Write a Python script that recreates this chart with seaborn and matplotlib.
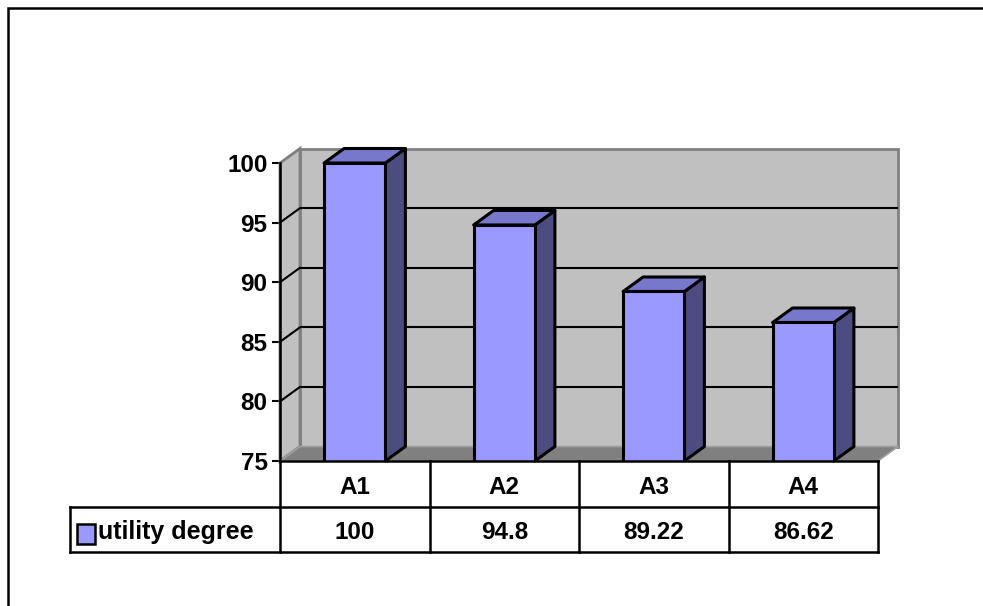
import matplotlib
matplotlib.use("Agg")
import matplotlib.pyplot as plt
import matplotlib.transforms as mtransforms
from matplotlib.patches import Polygon, Rectangle
import seaborn as sns
import pandas as pd

# Data
categories = ["A1", "A2", "A3", "A4"]
series_name = "utility degree"
utility = [100, 94.8, 89.22, 86.62]
y_ticks = [75, 80, 85, 90, 95, 100]

FRONT = "#9999FF"
TOP = "#7777CC"
SIDE = "#4C4C80"
WALL = "#C0C0C0"
FLOOR = "#808080"
EDGE = "#808080"
FS = 17.5

sns.set_theme(style="white")
plt.rcParams["font.family"] = ["Liberation Sans", "DejaVu Sans"]
plt.rcParams["font.weight"] = "bold"
plt.rcParams["text.color"] = "black"
plt.rcParams["ytick.color"] = "black"
plt.rcParams["ytick.labelcolor"] = "black"

W, H = 983, 606
fig = plt.figure(figsize=(W / 100, H / 100), dpi=100, facecolor="white")

# front plane of the 3-D plot area (pixel box 280..878 x 163..461)
ax = fig.add_axes([280 / W, (H - 461) / H, 598 / W, 298 / H])
ax.set_facecolor("none")

df = pd.DataFrame({"category": categories, "value": utility})
sns.barplot(data=df, x="category", y="value", color=FRONT, width=0.41,
            edgecolor="black", linewidth=2.2, saturation=1, ax=ax, zorder=5)

ymin, ymax = y_ticks[0], y_ticks[-1]
ax.set_xlim(-0.5, len(categories) - 0.5)
ax.set_ylim(ymin, ymax)
ax.set_xlabel("")
ax.set_ylabel("")

# depth offset of the back plane, in data units
px_x = 598 / len(categories)
px_y = 298 / (ymax - ymin)
dx = 20 / px_x
dy = 14.5 / px_y
x_lo, x_hi = -0.5, len(categories) - 0.5

# walls and floor
ax.add_patch(Polygon([(x_lo + dx, ymin + dy), (x_hi + dx, ymin + dy),
                      (x_hi + dx, ymax + dy), (x_lo + dx, ymax + dy)],
                     closed=True, facecolor=WALL, edgecolor=EDGE, lw=2,
                     clip_on=False, zorder=0.5))
ax.add_patch(Polygon([(x_lo, ymin), (x_lo, ymax), (x_lo + dx, ymax + dy),
                      (x_lo + dx, ymin + dy)],
                     closed=True, facecolor=WALL, edgecolor=EDGE, lw=2,
                     clip_on=False, zorder=0.6))
ax.add_patch(Polygon([(x_lo, ymin), (x_hi, ymin), (x_hi + dx, ymin + dy),
                      (x_lo + dx, ymin + dy)],
                     closed=True, facecolor=FLOOR, edgecolor="#A0A0A0", lw=1.2,
                     clip_on=False, zorder=0.7))

# gridlines on back and side walls
for yv in y_ticks[1:-1]:
    ax.plot([x_lo + dx, x_hi + dx], [yv + dy, yv + dy], color="black",
            lw=1.5, clip_on=False, zorder=0.8, solid_capstyle="butt")
    ax.plot([x_lo, x_lo + dx], [yv, yv + dy], color="black",
            lw=1.5, clip_on=False, zorder=0.8)

# 3-D faces of every bar, built from the bars seaborn drew
for bar in list(ax.patches):
    if not isinstance(bar, Rectangle) or bar.get_width() > 1:
        continue
    x0, w, h = bar.get_x(), bar.get_width(), bar.get_height()
    x1 = x0 + w
    ax.add_patch(Polygon([(x1, ymin), (x1, h), (x1 + dx, h + dy),
                          (x1 + dx, ymin + dy)], closed=True,
                         facecolor=SIDE, edgecolor="black", lw=2.2,
                         joinstyle="round", clip_on=False, zorder=4))
    ax.add_patch(Polygon([(x0, h), (x1, h), (x1 + dx, h + dy),
                          (x0 + dx, h + dy)], closed=True,
                         facecolor=TOP, edgecolor="black", lw=2.2,
                         joinstyle="round", clip_on=False, zorder=4))

# value axis
ax.set_yticks(y_ticks)
ax.set_yticklabels([str(v) for v in y_ticks], fontsize=FS, fontweight="bold",
                   color="black")
ax.tick_params(axis="y", direction="out", length=6, width=1.5, color="black",
               labelcolor="black", pad=3, left=True)
ax.set_xticks([])
for side in ["top", "right", "bottom"]:
    ax.spines[side].set_visible(False)
ax.spines["left"].set_color("black")
ax.spines["left"].set_linewidth(1.8)
ax.spines["left"].set_zorder(6)

# data table under the plot
tr = mtransforms.blended_transform_factory(ax.transData, ax.transAxes)
row1 = -46 / 298
row2 = -91 / 298
text_drop = 3 / 298
leg_left = x_lo - (280 - 70) / px_x
lk = dict(color="black", lw=1.8, transform=tr, clip_on=False, zorder=7,
          solid_capstyle="projecting")
ax.plot([x_lo, x_hi], [0, 0], **lk)
ax.plot([leg_left, x_hi], [row1, row1], **lk)
ax.plot([leg_left, x_hi], [row2, row2], **lk)
for i in range(len(categories) + 1):
    ax.plot([x_lo + i, x_lo + i], [0, row2], **lk)
ax.plot([leg_left, leg_left], [row1, row2], **lk)

for i, (cat, val) in enumerate(zip(categories, utility)):
    ax.text(i, row1 / 2 - text_drop, cat, transform=tr, ha="center",
            va="center", fontsize=FS, fontweight="bold", color="black")
    ax.text(i, (row1 + row2) / 2 - text_drop, f"{val:g}", transform=tr,
            ha="center", va="center", fontsize=FS, fontweight="bold",
            color="black")

# legend key in the row header
sw_x0 = x_lo + (77 - 280) / px_x
sw_w = 18 / px_x
sw_y0 = (461 - 544) / 298
sw_h = 20 / 298
ax.add_patch(Rectangle((sw_x0, sw_y0), sw_w, sw_h, transform=tr,
                       facecolor=FRONT, edgecolor="black", lw=1.8,
                       clip_on=False, zorder=7))
ax.text(x_lo + (98 - 280) / px_x, (row1 + row2) / 2 - text_drop, series_name,
        transform=tr, ha="left", va="center", fontsize=FS + 0.5,
        fontweight="bold", color="black")

# chart area border
fig.add_artist(Rectangle((8 / W, -0.2), 1.2, (H - 8) / H + 0.2,
                         transform=fig.transFigure, facecolor="none",
                         edgecolor="black", lw=1.8))

fig.savefig("out.png", dpi=100, facecolor="white")
